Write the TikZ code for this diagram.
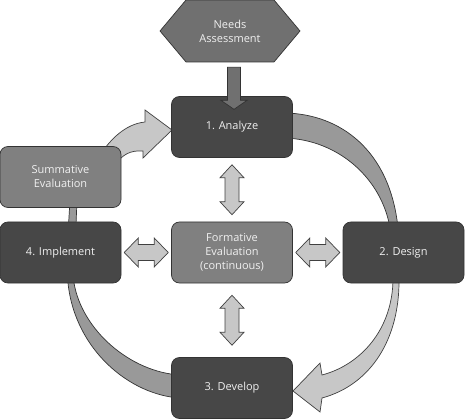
\documentclass[tikz,border=0pt]{standalone}
\usepackage{fontspec}
\setmainfont{Open Sans}
\usepackage{tikz}
\usetikzlibrary{calc,shapes.symbols}

\begin{document}
\begin{tikzpicture}[x=1pt, y=-1pt,
  font=\fontsize{11}{14}\selectfont, line width=0.7pt,
  stage/.style={draw=black!80, rounded corners=8pt, minimum width=121, minimum height=61, align=center, text=black!6, fill=black!72},
  evalbox/.style={stage, fill=black!50},
  hexa/.style={draw=black!80, signal, signal to=west and east, signal pointer angle=100, minimum width=140, minimum height=62, inner sep=0pt, fill=black!56, text=black!6, align=center},
  bandarr/.style={draw=black!80, fill=black!40},
  lightarr/.style={draw=black!75, fill=black!22},
  pics/biarr/.style n args={4}{code={
    \draw[lightarr] (-#1/2,0) -- (-#1/2+#4,-#2/2) -- (-#1/2+#4,-#3/2) -- (#1/2-#4,-#3/2) -- (#1/2-#4,-#2/2) -- (#1/2,0)
      -- (#1/2-#4,#2/2) -- (#1/2-#4,#3/2) -- (-#1/2+#4,#3/2) -- (-#1/2+#4,#2/2) -- cycle;}}]
\useasboundingbox (0,0) rectangle (465,419);
% cycle bands, behind the boxes
\draw[bandarr] (180,398) .. controls (130,395) and (75,350) .. (68,283) .. controls (67,250) .. (70,200)
  -- (77,200) .. controls (75,250) .. (74,283) .. controls (82,330) and (130,372) .. (180,375) -- cycle;
\draw[bandarr] (285,113) .. controls (340,114) and (390,150) .. (398,228)
  -- (390,228) .. controls (382,180) and (340,140) .. (285,138) -- cycle;
\draw[lightarr] (399,278) .. controls (400,340) and (370,385) .. (322,398) -- (320,412) -- (293,391) -- (320,363)
  -- (322,375) .. controls (360,365) and (393,330) .. (393,278) -- cycle;
\draw[lightarr] (100,155) .. controls (110,140) and (125,124) .. (145,122) -- (145,110) -- (172,130) -- (143,158)
  -- (143,151) .. controls (130,150) and (122,155) .. (115,165) -- cycle;
% stages
\node[hexa] (needs) at (230,31) {Needs\\Assessment};
\node[stage] (analyze) at (232,127) {1. Analyze};
\node[stage] (design) at (403.5,252.5) {2. Design};
\node[stage] (develop) at (232,388) {3. Develop};
\node[stage] (implement) at (60.5,252.5) {4. Implement};
\node[evalbox] (form) at (232,252.5) {Formative\\Evaluation\\(continuous)};
\node[evalbox] (summ) at (60.5,177) {Summative\\Evaluation};
% two-way arrows to formative evaluation
\pic[rotate=90] at ($(analyze.south)!.5!(form.north)$) {biarr={50}{24}{14}{13}};
\pic[rotate=90] at ($(form.south)!.5!(develop.north)$) {biarr={50}{24}{14}{13}};
\pic at ($(implement.east)!.5!(form.west)$) {biarr={44}{29}{16}{14}};
\pic at ($(form.east)!.5!(design.west)$) {biarr={44}{29}{16}{14}};
% needs assessment feeds analyze
\draw[draw=black!80, fill=black!56] ($(needs.south)+(-2.5,5)$) -- ++(13,0) -- ++(0,33) -- ++(6.5,0) -- ++(-13,9) -- ++(-13,-9) -- ++(6.5,0) -- cycle;
\end{tikzpicture}
\end{document}
